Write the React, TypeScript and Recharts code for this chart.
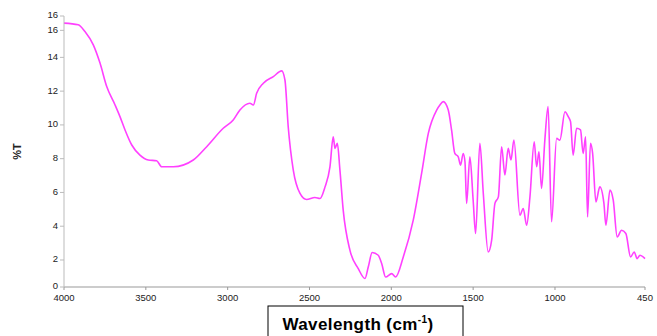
import { LineChart, Line, XAxis, YAxis } from "recharts";

const wavenumbers = [
  4000, 3913, 3872, 3821, 3780, 3739, 3688, 3658, 3627, 3586, 3536, 3485, 3434, 3403, 3332, 3210,
  3128, 3027, 2966, 2925, 2864, 2843, 2823, 2782, 2721, 2670, 2650, 2630, 2599, 2558, 2518, 2467,
  2436, 2405, 2375, 2355, 2344, 2330, 2314, 2294, 2253, 2202, 2161, 2141, 2117, 2080, 2059, 2035,
  1998, 1974, 1927, 1866, 1815, 1774, 1723, 1703, 1683, 1652, 1632, 1612, 1591, 1577, 1561, 1550,
  1540, 1520, 1500, 1485, 1459, 1438, 1408, 1387, 1367, 1346, 1326, 1306, 1286, 1269, 1251, 1214,
  1194, 1173, 1153, 1127, 1112, 1098, 1082, 1062, 1042, 1021, 990, 970, 939, 919, 905, 889,
  868, 844, 828, 813, 801, 783, 770, 750, 726, 701, 689, 664, 644, 620, 593, 567,
  538, 516, 498, 481, 450,
];

const transmittance = [
  16.03, 15.93, 15.53, 14.74, 13.66, 12.27, 11.18, 10.49, 9.7, 8.81, 8.21, 7.92, 7.88, 7.52, 7.52, 7.92,
  8.71, 9.8, 10.29, 10.88, 11.28, 11.18, 11.87, 12.47, 12.86, 13.2, 12.66, 9.89, 7.32, 5.94, 5.58, 5.7,
  5.64, 6.33, 7.52, 9.3, 8.61, 8.91, 7.32, 4.95, 2.58, 1.49, 0.9, 1.58, 2.44, 2.28, 1.79, 0.99,
  1.19, 0.99, 2.18, 4.36, 7.13, 9.5, 10.88, 11.18, 11.38, 10.88, 9.7, 8.31, 8.11, 7.62, 8.31, 7.82,
  5.35, 8.11, 5.54, 3.57, 8.91, 5.94, 2.47, 3.17, 5.35, 5.74, 8.71, 7.03, 8.61, 7.92, 9.1, 4.65,
  5.05, 4.06, 5.74, 9.0, 7.52, 8.41, 6.24, 9.1, 11.08, 4.26, 9.2, 9.1, 10.78, 10.49, 10.19, 8.21,
  9.8, 9.7, 8.31, 9.3, 4.55, 8.91, 8.31, 5.44, 6.33, 5.35, 4.06, 6.14, 5.54, 3.37, 3.76, 3.57,
  2.18, 2.47, 2.08, 2.28, 2.08,
];

const xTicks = [4000, 3500, 3000, 2500, 2000, 1500, 1000, 450];
const yTicks = [0.4, 2, 4, 6, 8, 10, 12, 14, 15.6, 16.45];

const data = wavenumbers.map((wn, i) => ({ wn, t: transmittance[i] }));

const font = "'Liberation Sans', Arial, sans-serif";

function XLabel() {
  return (
    <g>
      <rect x={268} y={306} width={195} height={40} fill="#fff" stroke="#000" strokeWidth={1} />
      <text x={358} y={330} textAnchor="middle" fontFamily={font} fontWeight="bold" fontSize={17} letterSpacing={0.4} fill="#000">
        Wavelength (cm
        <tspan fontSize={10} dy={-7}>-1</tspan>
        <tspan dy={7}>)</tspan>
      </text>
    </g>
  );
}

export default function App() {
  return (
    <div style={{ position: "absolute", left: 0, top: 0, width: 657, height: 336, background: "#fff" }}>
      <LineChart width={657} height={336} data={data} margin={{ top: 16, right: 12, bottom: 29, left: 24 }}>
        <XAxis
          dataKey="wn"
          type="number"
          domain={[450, 4000]}
          reversed
          ticks={xTicks}
          interval={0}
          tick={{ fontSize: 9.5, fill: "#222", fontFamily: font, dy: 2 }}
          tickSize={3}
          stroke="#999"
          height={20}
          label={<XLabel />}
        />
        <YAxis
          type="number"
          domain={[0.4, 16.45]}
          ticks={yTicks}
          interval={0}
          allowDataOverflow
          tickFormatter={(v: number) => String(Math.round(v))}
          tick={{ fontSize: 9.5, fill: "#222", fontFamily: font, dy: -1 }}
          tickSize={4}
          stroke="#bbb"
          width={40}
          label={{
            value: "%T",
            angle: -90,
            position: "insideLeft",
            dx: -12,
            style: { fontSize: 11, fontWeight: "bold", fill: "#222", fontFamily: font, textAnchor: "middle" },
          }}
        />
        <Line
          type="monotone"
          dataKey="t"
          stroke="#ff40ff"
          strokeWidth={1.6}
          dot={false}
          isAnimationActive={false}
        />
      </LineChart>
    </div>
  );
}
